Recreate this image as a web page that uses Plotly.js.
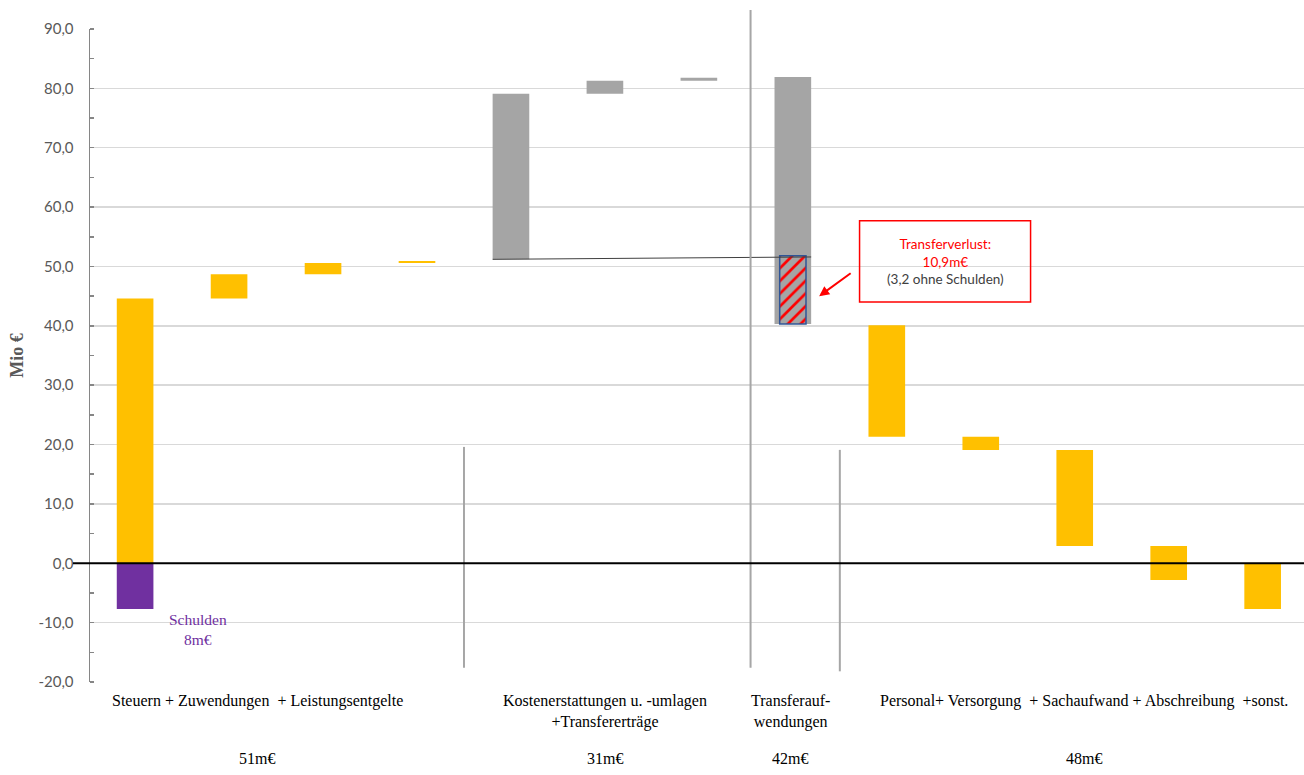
<!DOCTYPE html>
<html><head><meta charset="utf-8">
<script src="https://cdn.plot.ly/plotly-3.0.1.min.js"></script>
<style>html,body{margin:0;padding:0;background:#fff}#chart{width:1304px;height:775px}</style>
</head><body><div id="chart"></div>
<script>
// ---- data ----
const yellowX    = [0, 1, 2, 3, 8, 9, 10, 11, 12];
const yellowBase = [0, 44.6, 48.7, 50.6, 21.3, 19.1, 2.9, -2.8, -7.7];
const yellowTop  = [44.6, 48.7, 50.6, 50.9, 40.1, 21.3, 19.1, 2.9, 0];

const grayX    = [4, 5, 6, 7];
const grayBase = [51.2, 79.1, 81.3, 40.3];
const grayTop  = [79.1, 81.3, 81.8, 81.9];

const debtX = [0];
const debtValue = [-7.7];

const lossX = [7];
const lossBase = [40.3];
const lossTop = [51.8];

const groupLabels = ["Steuern + Zuwendungen  + Leistungsentgelte",
  "Kostenerstattungen u. -umlagen<br>+Transfererträge",
  "Transferauf-<br>wendungen",
  "Personal+ Versorgung  + Sachaufwand + Abschreibung  +sonst."];
const groupTotals = ["51m€", "31m€", "42m€", "48m€"];
const groupCenters = [1.3, 5.0, 6.97, 10.1];

const yTicks = [-20, -10, 0, 10, 20, 30, 40, 50, 60, 70, 80, 90];
const yTickText = yTicks.map(v => v.toFixed(1).replace(".", ","));

// ---- helpers ----
const diff = (a, b) => a.map((v, i) => v - b[i]);
const serif = "Liberation Serif, serif";
const sans = "Lato, sans-serif";
const xRange = [-0.48, 12.44];
const yRange = [-20, 90];
const xp = v => (v - xRange[0]) / (xRange[1] - xRange[0]);
const yp = v => (v - yRange[0]) / (yRange[1] - yRange[0]);

const traces = [
  { type: "bar", x: yellowX, base: yellowBase, y: diff(yellowTop, yellowBase),
    width: 0.39, marker: { color: "#FFC000" }, hoverinfo: "skip" },
  { type: "bar", x: debtX, base: [0], y: debtValue,
    width: 0.39, marker: { color: "#7030A0" }, hoverinfo: "skip" },
  { type: "bar", x: grayX, base: grayBase, y: diff(grayTop, grayBase),
    width: 0.39, marker: { color: "#A5A5A5" }, hoverinfo: "skip" },
  { type: "bar", x: lossX, base: lossBase, y: diff(lossTop, lossBase),
    width: 0.28, hoverinfo: "skip",
    marker: { color: "#A5A5A5", line: { color: "#2F5597", width: 1.5 },
      pattern: { shape: "/", fgcolor: "#FF0000", bgcolor: "#A5A5A5", size: 9, solidity: 0.3 } } },
  { type: "scatter", mode: "lines", x: [grayX[0] - 0.195, lossX[0] + 0.195], y: [grayBase[0], lossTop[0] - 0.2],
    line: { color: "#404040", width: 1 }, hoverinfo: "skip" }
];

// separators [x, yBottom, yTop]
const seps = [[3.5, -17.6, 19.6], [6.55, -17.6, 93.2], [7.5, -18.2, 19.1]];
const shapes = seps.map(s => ({ type: "line", xref: "paper", yref: "paper",
  x0: xp(s[0]), x1: xp(s[0]), y0: yp(s[1]), y1: yp(s[2]),
  line: { color: "#A6A6A6", width: 2 } }));
shapes.push({ type: "line", xref: "paper", yref: "y", x0: -0.014, x1: 1, y0: 0, y1: 0,
  line: { color: "#000", width: 1.8 } });
shapes.push({ type: "rect", xref: "x", yref: "y", x0: 7.71, x1: 9.53, y0: 44.0, y1: 57.7,
  line: { color: "#FF0000", width: 1.5 }, fillcolor: "rgba(255,255,255,0)" });

const annotations = [];
groupLabels.forEach((t, i) => {
  annotations.push({ x: groupCenters[i], xref: "x", y: -0.012, yref: "paper", yanchor: "top",
    text: t, showarrow: false, font: { family: serif, size: 16, color: "#000" } });
  annotations.push({ x: groupCenters[i], xref: "x", y: -0.1164, yref: "paper", yanchor: "middle",
    text: groupTotals[i], showarrow: false, font: { family: serif, size: 16, color: "#000" } });
});
annotations.push({ x: 0.67, xref: "x", y: -11.1, yref: "y", text: "Schulden<br>8m€", showarrow: false,
  font: { family: serif, size: 15.5, color: "#7030A0" } });
annotations.push({ x: 8.62, xref: "x", y: 50.9, yref: "y",
  text: "<span style='color:#FF0000'>Transferverlust:</span><br><span style='color:#FF0000'>10,9m€</span><br><span style='color:#404040'>(3,2 ohne Schulden)</span>",
  showarrow: false, font: { family: sans, size: 13.5 } });
annotations.push({ x: 7.28, xref: "x", y: 45.0, yref: "y", ax: 33, ay: -24, text: "",
  showarrow: true, arrowhead: 2, arrowsize: 1, arrowwidth: 2, arrowcolor: "#FF0000" });

const layout = {
  width: 1304, height: 775,
  margin: { l: 90, r: 0, t: 29, b: 93 },
  paper_bgcolor: "#fff", plot_bgcolor: "#fff",
  barmode: "overlay",
  showlegend: false,
  xaxis: { range: xRange, showticklabels: false, showgrid: false, zeroline: false,
    showline: false, ticks: "", fixedrange: true },
  yaxis: { range: yRange, tickvals: yTicks, ticktext: yTickText, showgrid: true,
    gridcolor: "#D9D9D9", gridwidth: 1.5, zeroline: false,
    showline: true, linecolor: "#868686", linewidth: 1.5, ticks: "", ticklabelstandoff: 12,
    minor: { dtick: 5, ticks: "inside", ticklen: 4, tickcolor: "#868686", tickwidth: 1.5, showgrid: false },
    tickfont: { family: sans, size: 15, color: "#595959" },
    title: { text: "Mio €", font: { family: serif, size: 18, color: "#595959", weight: "bold" }, standoff: 10 } },
  shapes: shapes,
  annotations: annotations
};

Plotly.newPlot("chart", traces, layout, { staticPlot: true, displayModeBar: false });
</script>
</body></html>
